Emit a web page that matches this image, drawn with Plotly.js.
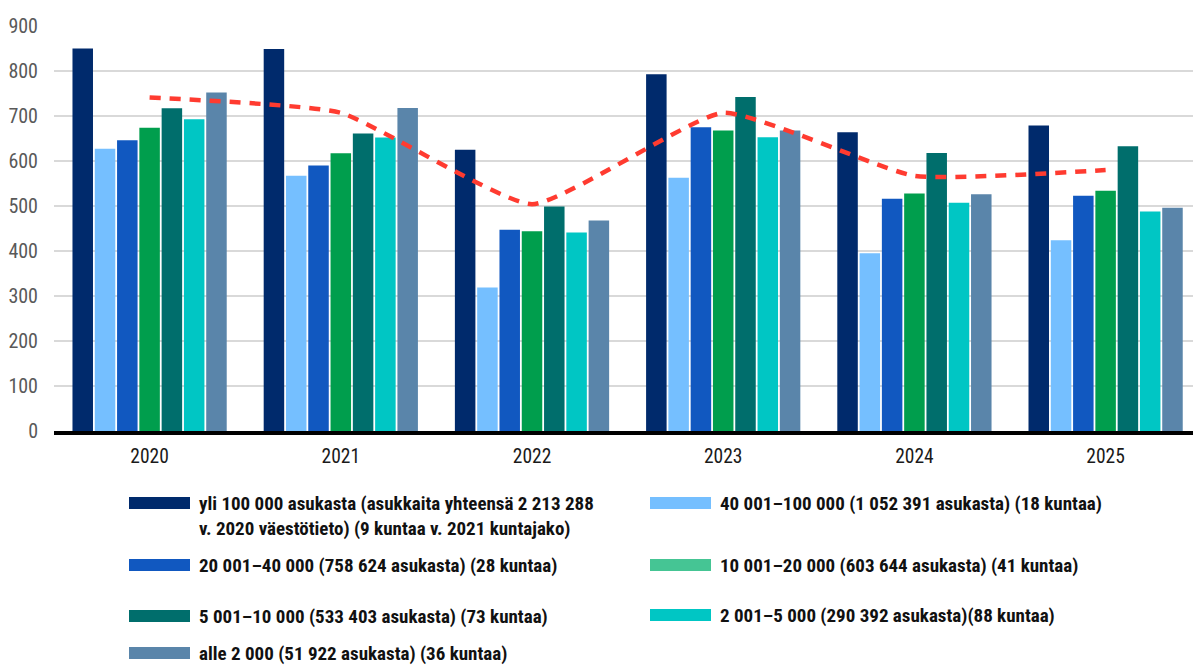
<!DOCTYPE html>
<html>
<head>
<meta charset="utf-8">
<script src="https://cdn.plot.ly/plotly-3.0.1.min.js"></script>
<style>
html,body{margin:0;padding:0;background:#fff;}
#chart{width:1193px;height:666px;}
</style>
</head>
<body>
<div id="chart"></div>
<script>
// ---- data ----
const years = ["2020", "2021", "2022", "2023", "2024", "2025"];

const seriesNames = [
  "yli 100 000 asukasta (asukkaita yhteensä 2 213 288<br>v. 2020 väestötieto) (9 kuntaa v. 2021 kuntajako)",
  "40 001–100 000 (1 052 391 asukasta) (18 kuntaa)",
  "20 001–40 000 (758 624 asukasta) (28 kuntaa)",
  "10 001–20 000 (603 644 asukasta) (41 kuntaa)",
  "5 001–10 000 (533 403 asukasta) (73 kuntaa)",
  "2 001–5 000 (290 392 asukasta)(88 kuntaa)",
  "alle 2 000 (51 922 asukasta) (36 kuntaa)"
];

const yli100000   = [850, 849, 625, 793, 664, 679];
const k40_100     = [627, 567, 319, 563, 395, 424];
const k20_40      = [646, 590, 447, 675, 516, 523];
const k10_20      = [674, 617, 444, 668, 528, 534];
const k5_10       = [717, 661, 499, 742, 618, 633];
const k2_5        = [693, 652, 441, 653, 507, 488];
const alle2000    = [752, 718, 468, 668, 526, 496];

const average     = [741, 707, 504, 707, 567, 580];

const yTicks = [0, 100, 200, 300, 400, 500, 600, 700, 800, 900];

// ---- styles ----
const barColors = ["#002a6c", "#75bfff", "#1158c0", "#009e4d", "#006e6c", "#00c6c4", "#5a85aa"];
const legendColors = ["#002a6c", "#75bfff", "#1158c0", "#45c594", "#006e6c", "#00c6c4", "#5a85aa"];
const seriesValues = [yli100000, k40_100, k20_40, k10_20, k5_10, k2_5, alle2000];

const FONT = "'Roboto Condensed', 'Roboto', sans-serif";

const traces = seriesValues.map((vals, i) => ({
  type: "bar",
  x: years,
  y: vals,
  name: seriesNames[i],
  marker: {color: barColors[i], line: {width: 0}},
  showlegend: false,
  hoverinfo: "x+y"
}));

traces.push({
  type: "scatter",
  mode: "lines",
  x: years,
  y: average,
  name: "keskiarvo",
  line: {color: "#ff3b30", width: 4.5, dash: "11px,9px", shape: "spline", smoothing: 0.45},
  showlegend: false,
  hoverinfo: "x+y"
});

// ---- custom legend (layout only) ----
const W = 1193, H = 666;
const mL = 54, mR = 0, mT = 26, mB = 235;
const plotW = W - mL - mR, plotH = H - mT - mB;
const px = x => (x - mL) / plotW;
const py = y => (H - mB - y) / plotH;

const legendPos = [
  {sx: 129, tx: 197, y: 503},
  {sx: 650, tx: 718, y: 503},
  {sx: 129, tx: 197, y: 565},
  {sx: 650, tx: 718, y: 565},
  {sx: 129, tx: 197, y: 616},
  {sx: 650, tx: 718, y: 615},
  {sx: 129, tx: 197, y: 653}
];

const shapes = [];
const annotations = [];
legendPos.forEach((p, i) => {
  shapes.push({
    type: "rect", xref: "paper", yref: "paper",
    x0: px(p.sx), x1: px(p.sx + 61),
    y0: py(p.y + 6), y1: py(p.y - 6),
    fillcolor: legendColors[i], line: {width: 0}
  });
  annotations.push({
    xref: "paper", yref: "paper",
    x: px(p.tx), y: py(p.y - 13),
    xanchor: "left", yanchor: "top",
    align: "left",
    showarrow: false,
    text: "<b>" + seriesNames[i] + "</b>",
    font: {family: FONT, size: 19, color: "#111111"}
  });
});

const layout = {
  width: W, height: H,
  margin: {l: mL, r: mR, t: mT, b: mB, pad: 0},
  paper_bgcolor: "#ffffff",
  plot_bgcolor: "#ffffff",
  barmode: "group",
  bargap: 0.184,
  bargroupgap: 0.08,
  showlegend: false,
  xaxis: {
    type: "category",
    range: [-0.5, 5.457],
    showgrid: false,
    showline: true,
    linecolor: "#000000",
    linewidth: 4,
    ticks: "outside",
    ticklen: 5,
    tickcolor: "rgba(0,0,0,0)",
    tickfont: {family: FONT, size: 19.5, color: "#1a1a1a"},
    zeroline: false,
    fixedrange: true
  },
  yaxis: {
    range: [0, 900],
    tickvals: yTicks,
    ticktext: yTicks.map(String),
    showgrid: true,
    gridcolor: "#d9d9d9",
    gridwidth: 2,
    zeroline: false,
    showline: false,
    ticks: "outside",
    ticklen: 11,
    tickcolor: "rgba(0,0,0,0)",
    tickfont: {family: FONT, size: 20, color: "#595959"},
    fixedrange: true
  },
  shapes: shapes,
  annotations: annotations
};

Plotly.newPlot("chart", traces, layout, {displayModeBar: false, staticPlot: true});
</script>
</body>
</html>
